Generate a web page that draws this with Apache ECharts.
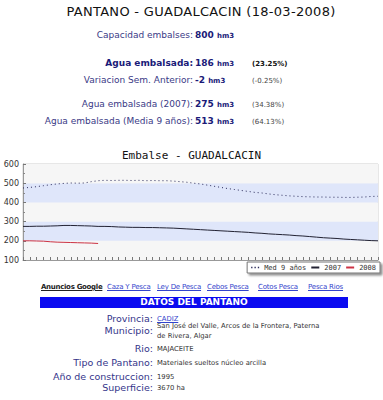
<!DOCTYPE html>
<html><head><meta charset="utf-8">
<script src="https://cdn.jsdelivr.net/npm/echarts@6/dist/echarts.min.js"></script>
<style>
html,body{margin:0;padding:0;background:#fff;width:383px;height:400px;overflow:hidden;font-family:"DejaVu Sans",Verdana,sans-serif;}
.a{position:absolute;white-space:nowrap;}
.lab{color:#3a3a86;font-size:9px;text-align:right;}
.val{color:#1a1a78;font-size:9px;font-weight:bold;}
.val small{font-size:7px;}
.pct{color:#444;font-size:7px;}
.ilab{color:#34348a;font-size:9.5px;text-align:right;}
.ival{color:#333;font-size:6.8px;line-height:10px;}
.lnk{color:#3344cc;text-decoration:underline;font-size:7px;}
</style></head>
<body>
<div id="page"></div>
<div id="chart" style="position:absolute;left:0;top:140px;width:383px;height:140px;"></div>
<script>
// ---- data ----
const pageTitle = "PANTANO - GUADALCACIN (18-03-2008)";
const summaryLabels = ["Capacidad embalses:", "Agua embalsada:", "Variacion Sem. Anterior:", "Agua embalsada (2007):", "Agua embalsada (Media 9 años):"];
const summaryValues = ["800", "186", "-2", "275", "513"];
const summaryPct = ["", "(23.25%)", "(-0.25%)", "(34.38%)", "(64.13%)"];
const adLinks = ["Caza Y Pesca", "Ley De Pesca", "Cebos Pesca", "Cotos Pesca", "Pesca Rios"];
const infoLabels = ["Provincia:", "Municipio:", "Rio:", "Tipo de Pantano:", "Año de construccion:", "Superficie:"];
const infoValues = ["CADIZ", "San José del Valle, Arcos de la Frontera, Paterna<br>de Rivera, Algar", "MAJACEITE", "Materiales sueltos núcleo arcilla", "1995", "3670 ha"];

const chartTitle = "Embalse - GUADALCACIN";
const weeks = Array.from({length:53}, (_, i) => String(i + 1));
const seriesNames = ["Med 9 años", "2007", "2008"];
const med9 = [475,478,482,487,492,496,499,501,500,501,508,513,515,514,515,515,514,515,513,514,513,513,511,508,505,500,496,490,484,478,472,467,462,457,452,449,444,440,437,434,432,430,429,428,428,427,427,426,426,427,428,431,432];
const y2007 = [275,275,276,276,277,278,280,280,279,278,277,275,275,274,272,271,270,270,269,269,268,267,266,264,262,260,258,256,254,252,250,248,246,244,241,239,236,234,232,230,227,225,222,219,216,214,212,209,207,205,203,201,200];
const y2008 = [200,200,199,198,195,193,192,191,190,189,188,186];
const yTicks = [100, 600, 100]; // min, max, interval

// ---- page text ----
const page = document.getElementById('page');
function add(cls, html, style){const d=document.createElement('div');d.className='a '+cls;d.innerHTML=html;d.setAttribute('style',style);page.appendChild(d);return d;}
add('', pageTitle, 'left:0;width:402px;text-align:center;top:4px;font-size:13px;color:#111;letter-spacing:0.3px;');
const rowY = [30, 58, 75, 99, 116];
summaryLabels.forEach((l, i) => {
  const bold = i === 1;
  add('lab', l, `right:${383-193}px;top:${rowY[i]}px;` + (bold ? 'font-weight:bold;color:#1a1a78;' : ''));
  add('val', summaryValues[i] + ' <small>hm3</small>', `left:195px;top:${rowY[i]}px;`);
  if (summaryPct[i]) add('pct', summaryPct[i], `left:252px;top:${rowY[i]+2}px;` + (bold ? 'color:#111;font-weight:bold;' : ''));
});
add('', '<u>Anuncios Google</u>', 'left:41px;top:283px;font-size:7px;color:#222;font-weight:bold;letter-spacing:-0.3px;');
const linkX = [107, 157, 207, 258, 308];
adLinks.forEach((t, i) => add('lnk', t, `left:${linkX[i]}px;top:283px;letter-spacing:-0.2px;`));
add('', 'DATOS DEL PANTANO', 'left:40px;top:297px;width:308px;height:11px;line-height:11px;background:#0a0af0;color:#fff;font-weight:bold;font-size:9px;text-align:center;');
const infoY = [313, 325, 343, 357, 371, 382];
infoLabels.forEach((l, i) => {
  add('ilab', l, `right:${383-153}px;top:${infoY[i]}px;`);
  const v = i === 0 ? '<u>' + infoValues[i] + '</u>' : infoValues[i];
  add('ival', v, `left:157px;top:${infoY[i] + (i === 1 ? -4 : 1)}px;` + (i === 0 ? 'color:#3344cc;' : ''));
});

// ---- chart ----
const lineColors = ['#2a2a5a', '#222233', '#cc3344'];
const dotIcon = 'path://M0,0h2v2h-2zM5,0h2v2h-2zM10,0h2v2h-2z';
const chart = echarts.init(document.getElementById('chart'), null, {renderer: 'svg'});
chart.setOption({
  animation: false,
  title: {text: chartTitle, left: 'center', top: 5, textStyle: {fontSize: 11, fontWeight: 'normal', fontFamily: 'DejaVu Sans Mono', color: '#111'}},
  grid: {left: 23, right: 5, top: 24, bottom: 20, show: true, backgroundColor: '#f6f6f6', borderColor: '#cfcfcf', borderWidth: 1},
  graphic: [{type: 'text', right: 10, top: 28, style: {text: 'WWW.EMBALSES.NET', fill: '#334488', font: '7px "DejaVu Sans Mono"'}}],
  legend: {
    data: [
      {name: seriesNames[0], icon: dotIcon},
      {name: seriesNames[1], icon: 'rect'},
      {name: seriesNames[2], icon: 'rect'}
    ],
    right: 3, top: 122, orient: 'horizontal',
    backgroundColor: '#fff', borderColor: '#777', borderWidth: 1,
    shadowColor: 'rgba(0,0,0,0.45)', shadowOffsetX: 2, shadowOffsetY: 2, shadowBlur: 2,
    padding: [2, 4], itemGap: 5, itemWidth: 8, itemHeight: 2,
    textStyle: {fontSize: 7, fontFamily: 'DejaVu Sans Mono', color: '#333'}
  },
  xAxis: {
    type: 'category', data: weeks, boundaryGap: false,
    axisLine: {lineStyle: {color: '#999'}},
    axisTick: {inside: true, length: 3, interval: 0, lineStyle: {color: '#777'}},
    axisLabel: {show: false}, splitLine: {show: false}
  },
  yAxis: {
    type: 'value', min: yTicks[0], max: yTicks[1], interval: yTicks[2],
    axisLine: {show: true, lineStyle: {color: '#999'}},
    axisTick: {show: true, inside: true, length: 3, lineStyle: {color: '#777'}},
    minorTick: {show: true, splitNumber: 2, length: 2, lineStyle: {color: '#888'}},
    axisLabel: {fontSize: 8, fontFamily: 'DejaVu Sans', color: '#333', margin: 4},
    splitLine: {show: false},
    splitArea: {show: true, areaStyle: {color: ['#f6f6f6', '#dfe6fa']}}
  },
  series: [
    {name: seriesNames[0], type: 'line', data: med9, symbol: 'none', lineStyle: {width: 1, type: [1, 3], color: lineColors[0]}, itemStyle: {color: lineColors[0]}},
    {name: seriesNames[1], type: 'line', data: y2007, symbol: 'none', lineStyle: {width: 1, color: lineColors[1]}, itemStyle: {color: lineColors[1]}},
    {name: seriesNames[2], type: 'line', data: y2008, symbol: 'none', lineStyle: {width: 1, color: lineColors[2]}, itemStyle: {color: lineColors[2]}}
  ]
});
</script>
</body></html>
